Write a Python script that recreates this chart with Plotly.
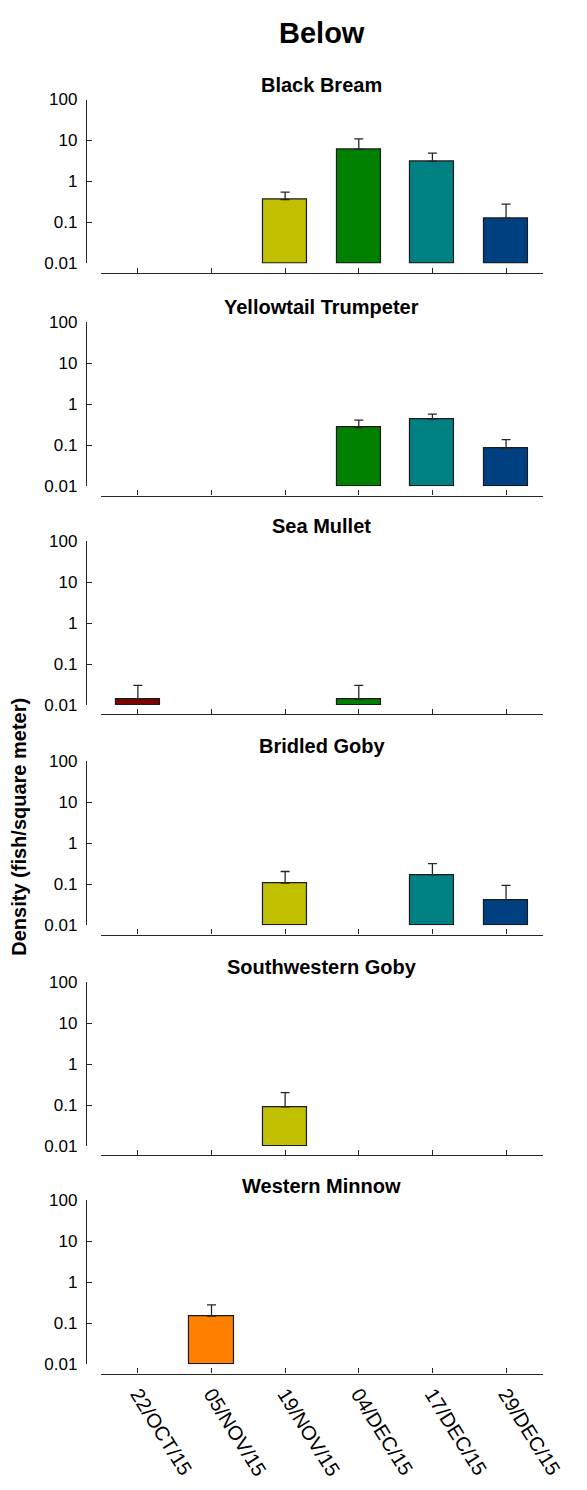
import plotly.graph_objects as go

W, H = 587, 1490

dates = ["22/OCT/15", "05/NOV/15", "19/NOV/15", "04/DEC/15", "17/DEC/15", "29/DEC/15"]
bar_colors = ["#800000", "#FF8000", "#C0C000", "#008000", "#008080", "#004080"]

species = ["Black Bream", "Yellowtail Trumpeter", "Sea Mullet",
           "Bridled Goby", "Southwestern Goby", "Western Minnow"]

black_bream = [None, None, 0.36, 6.1, 3.1, 0.125]
black_bream_err = [None, None, 0.19, 4.9, 1.8, 0.155]
yellowtail_trumpeter = [None, None, None, 0.27, 0.43, 0.082]
yellowtail_trumpeter_err = [None, None, None, 0.14, 0.145, 0.054]
sea_mullet = [0.014, None, None, 0.014, None, None]
sea_mullet_err = [0.016, None, None, 0.016, None, None]
bridled_goby = [None, None, 0.107, None, 0.169, 0.0415]
bridled_goby_err = [None, None, 0.097, None, 0.149, 0.0525]
southwestern_goby = [None, None, 0.09, None, None, None]
southwestern_goby_err = [None, None, 0.11, None, None, None]
western_minnow = [None, 0.149, None, None, None, None]
western_minnow_err = [None, 0.13, None, None, None, None]

means = [black_bream, yellowtail_trumpeter, sea_mullet, bridled_goby,
         southwestern_goby, western_minnow]
errs = [black_bream_err, yellowtail_trumpeter_err, sea_mullet_err, bridled_goby_err,
        southwestern_goby_err, western_minnow_err]

y_tickvals = [0.01, 0.1, 1, 10, 100]
y_ticktext = ["0.01", "0.1", "1", "10", "100"]
base_val = 0.01

# layout in pixels
zero_px = [257.7, 483.3, 705.0, 928.0, 1151.7, 1372.7]
plot_h = 166.0
xaxis_gap = 9.5
x_left, x_right = 105.0, 564.0
yline_x = 89.3

FONT = "Arial, Liberation Sans, Helvetica, sans-serif"
AX_COL = "#262626"

def py(px):
    return 1 - px / H

fig = go.Figure()
layout = {}
annotations = []
xs = list(range(len(dates)))

for i, (name, m, e) in enumerate(zip(species, means, errs)):
    k = "" if i == 0 else str(i + 1)
    xa, ya = "x" + k, "y" + k
    bx = [x for x, v in zip(xs, m) if v is not None]
    bv = [v for v in m if v is not None]
    be = [ev for ev in e if ev is not None]
    bc = [c for c, v in zip(bar_colors, m) if v is not None]
    fig.add_trace(go.Bar(
        x=bx, y=[v - base_val for v in bv], base=[base_val] * len(bv),
        marker=dict(color=bc, line=dict(color="#1a1a1a", width=1.2)),
        width=0.6, xaxis=xa, yaxis=ya, showlegend=False, hoverinfo="skip"))
    fig.add_trace(go.Scatter(
        x=bx, y=bv, mode="markers", marker=dict(size=0.1, color="rgba(0,0,0,0)"),
        error_y=dict(type="data", array=be, arrayminus=[0] * len(be), symmetric=False,
                     color=AX_COL, thickness=1.3, width=4.5),
        xaxis=xa, yaxis=ya, showlegend=False, hoverinfo="skip"))

    z = zero_px[i]
    top = z - plot_h
    last = (i == len(species) - 1)
    layout["xaxis" + k] = dict(
        domain=[x_left / W, x_right / W], anchor="free", position=py(z + xaxis_gap),
        range=[-0.5, 5.5], tickmode="array", tickvals=xs,
        ticktext=dates if last else [""] * len(dates),
        showticklabels=last, tickangle=58,
        ticks="inside", ticklen=5, tickwidth=1.2, tickcolor=AX_COL,
        showline=True, linecolor=AX_COL, linewidth=1.4,
        showgrid=False, zeroline=False,
        tickfont=dict(family=FONT, size=20, color="#000"), fixedrange=True)
    layout["yaxis" + k] = dict(
        domain=[py(z), py(top)], anchor="free", position=yline_x / W,
        type="log", range=[-2, 2], tickmode="array",
        tickvals=y_tickvals, ticktext=y_ticktext,
        ticks="inside", ticklen=5, tickwidth=1.2, tickcolor=AX_COL,
        showline=True, linecolor=AX_COL, linewidth=1.4,
        showgrid=False, zeroline=False, ticklabelstandoff=5,
        tickfont=dict(family=FONT, size=17, color="#000"), fixedrange=True)
    annotations.append(dict(
        text="<b>%s</b>" % name, x=(x_left + x_right) / 2 / W, y=py(top - 15),
        xref="paper", yref="paper", xanchor="center", yanchor="middle",
        showarrow=False, font=dict(family=FONT, size=20, color="#000")))

annotations.append(dict(
    text="<b>Below</b>", x=(x_left + x_right) / 2 / W, y=py(24),
    xref="paper", yref="paper", xanchor="center", yanchor="middle",
    showarrow=False, font=dict(family=FONT, size=29, color="#000")))
annotations.append(dict(
    text="<b>Density (fish/square meter)</b>", x=20 / W, y=py(828),
    xref="paper", yref="paper", xanchor="center", yanchor="middle", textangle=-90,
    showarrow=False, font=dict(family=FONT, size=20, color="#000")))

fig.update_layout(
    width=W, height=H, margin=dict(l=0, r=0, t=0, b=0),
    paper_bgcolor="white", plot_bgcolor="rgba(0,0,0,0)",
    bargap=0, annotations=annotations, **layout)

fig.write_html("out.html")
